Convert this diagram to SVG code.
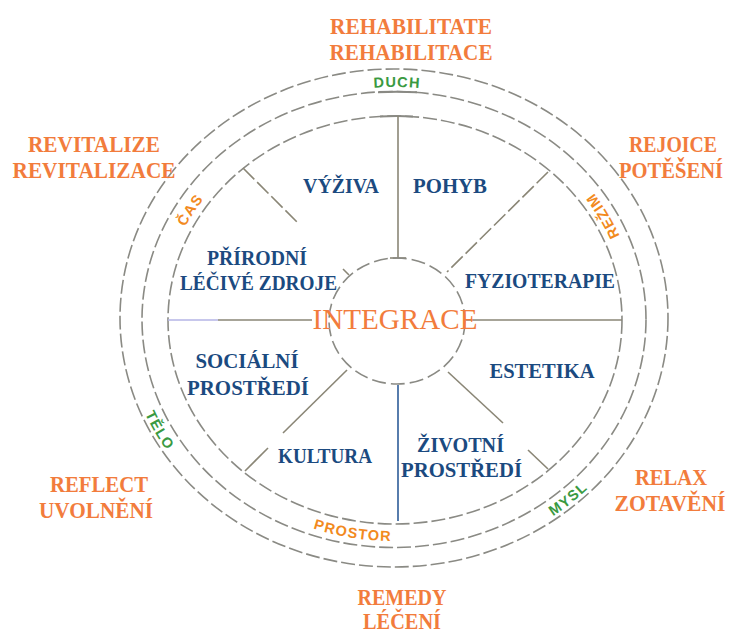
<svg xmlns="http://www.w3.org/2000/svg" width="733" height="635" viewBox="0 0 733 635">
<style>
.ring{fill:none;stroke:#8a8a84;stroke-width:1.6;stroke-dasharray:14 4}
.spoke{fill:none;stroke:#8a8676;stroke-width:1.6}
.dsh{stroke-dasharray:16 4}
.sector{font-family:"Liberation Serif","Times New Roman",serif;font-weight:bold;font-size:20.5px;fill:#1b4a80;text-anchor:middle}
.outer{font-family:"Liberation Serif","Times New Roman",serif;font-weight:bold;font-size:22.5px;fill:#f27c3c;text-anchor:middle}
.rl{font-family:"Liberation Sans",Arial,sans-serif;font-weight:bold;font-size:14.5px;letter-spacing:1.2px;text-anchor:middle}
.g{fill:#3a9a42}
.o{fill:#f28a1e}
</style>
<defs>
<path id="oCW" d="M 137,319 A 257 232 0 1 1 651,319 A 257 232 0 1 1 137,319"/>
<path id="oCCW" d="M 124,319 A 270 244 0 1 0 664,319 A 270 244 0 1 0 124,319"/>
<path id="iCW" d="M 161,320 A 233 210 0 1 1 627,320 A 233 210 0 1 1 161,320"/>
<path id="iCCW" d="M 150,320 A 244 221 0 1 0 638,320 A 244 221 0 1 0 150,320"/>
</defs>
<rect width="733" height="635" fill="#ffffff"/>

<g id="rings">
<ellipse class="ring" cx="394" cy="318" rx="274" ry="249"/>
<ellipse class="ring" cx="394" cy="319.5" rx="252" ry="228"/>
<ellipse class="ring" cx="395" cy="320" rx="227" ry="204"/>
<path d="M 378,92.2 Q 397,91.2 417,92.2" fill="none" stroke="#8a8a84" stroke-width="2"/>
<path d="M 380,116.4 Q 397,115.6 413,116.4" fill="none" stroke="#8a8a84" stroke-width="2"/>
</g>

<g id="connectors">
<line class="spoke" x1="398" y1="116" x2="398" y2="258"/>
<line class="spoke" x1="390" y1="258" x2="406" y2="258"/>
<line class="spoke dsh" x1="243" y1="168" x2="298" y2="223"/>
<line class="spoke" x1="343" y1="269" x2="349" y2="275"/>
<line class="spoke dsh" x1="548" y1="172" x2="447" y2="272"/>
<line x1="168" y1="320" x2="218" y2="320" stroke="#b4b4e6" stroke-width="1.6"/>
<line class="spoke" x1="218" y1="320" x2="312" y2="320"/>
<line class="spoke" x1="465" y1="320" x2="622" y2="320"/>
<line class="spoke" x1="347" y1="370" x2="283" y2="433"/>
<line class="spoke" x1="268" y1="448" x2="245" y2="471"/>
<line x1="398" y1="385" x2="398" y2="521" stroke="#2d5c98" stroke-width="1.6"/>
<line class="spoke" x1="448" y1="372" x2="503" y2="423"/>
<line class="spoke" x1="528" y1="450" x2="548" y2="469"/>
</g>

<g id="center">
<ellipse cx="397" cy="321" rx="68" ry="63" fill="none" stroke="#8a8a84" stroke-width="1.6" stroke-dasharray="14 5"/>
<text x="395" y="329" font-family="'Liberation Serif','Times New Roman',serif" font-size="29" fill="#f27c3c" text-anchor="middle" textLength="165" lengthAdjust="spacingAndGlyphs">INTEGRACE</text>
</g>

<g id="sector-vyziva"><text class="sector" x="341" y="193" textLength="76" lengthAdjust="spacingAndGlyphs">VÝŽIVA</text></g>
<g id="sector-pohyb"><text class="sector" x="450" y="193" textLength="74" lengthAdjust="spacingAndGlyphs">POHYB</text></g>
<g id="sector-prirodni"><text class="sector" x="257" y="265" textLength="100" lengthAdjust="spacingAndGlyphs">PŘÍRODNÍ</text><text class="sector" x="258.5" y="290" textLength="157" lengthAdjust="spacingAndGlyphs">LÉČIVÉ ZDROJE</text></g>
<g id="sector-fyzioterapie"><text class="sector" x="540" y="288" textLength="150" lengthAdjust="spacingAndGlyphs">FYZIOTERAPIE</text></g>
<g id="sector-socialni"><text class="sector" x="247" y="368" textLength="103" lengthAdjust="spacingAndGlyphs">SOCIÁLNÍ</text><text class="sector" x="248" y="395" textLength="122" lengthAdjust="spacingAndGlyphs">PROSTŘEDÍ</text></g>
<g id="sector-estetika"><text class="sector" x="542" y="378" textLength="105" lengthAdjust="spacingAndGlyphs">ESTETIKA</text></g>
<g id="sector-kultura"><text class="sector" x="325" y="463" textLength="94" lengthAdjust="spacingAndGlyphs">KULTURA</text></g>
<g id="sector-zivotni"><text class="sector" x="460.5" y="452" textLength="87" lengthAdjust="spacingAndGlyphs">ŽIVOTNÍ</text><text class="sector" x="461.5" y="477" textLength="121" lengthAdjust="spacingAndGlyphs">PROSTŘEDÍ</text></g>

<g id="ring-duch"><text class="rl g"><textPath href="#oCW" startOffset="25.2%">DUCH</textPath></text></g>
<g id="ring-telo"><text class="rl g"><textPath href="#oCCW" startOffset="7.4%">TĚLO</textPath></text></g>
<g id="ring-mysl"><text class="rl g"><textPath href="#oCCW" startOffset="36.8%">MYSL</textPath></text></g>
<g id="ring-cas"><text class="rl o"><textPath href="#iCW" startOffset="8.2%">ČAS</textPath></text></g>
<g id="ring-prostor"><text class="rl o"><textPath href="#iCCW" startOffset="22.1%">PROSTOR</textPath></text></g>
<g id="ring-rezim"><text class="rl o"><textPath href="#iCCW" startOffset="57.7%">REŽIM</textPath></text></g>

<g id="label-rehabilitate"><text class="outer" x="411" y="34" textLength="162" lengthAdjust="spacingAndGlyphs">REHABILITATE</text><text class="outer" x="411" y="60" textLength="163" lengthAdjust="spacingAndGlyphs">REHABILITACE</text></g>
<g id="label-revitalize"><text class="outer" x="94" y="152" textLength="132" lengthAdjust="spacingAndGlyphs">REVITALIZE</text><text class="outer" x="94" y="178" textLength="163" lengthAdjust="spacingAndGlyphs">REVITALIZACE</text></g>
<g id="label-rejoice"><text class="outer" x="673" y="152" textLength="88" lengthAdjust="spacingAndGlyphs">REJOICE</text><text class="outer" x="671" y="178" textLength="104" lengthAdjust="spacingAndGlyphs">POTĚŠENÍ</text></g>
<g id="label-reflect"><text class="outer" x="99" y="492" textLength="98" lengthAdjust="spacingAndGlyphs">REFLECT</text><text class="outer" x="96" y="518" textLength="114" lengthAdjust="spacingAndGlyphs">UVOLNĚNÍ</text></g>
<g id="label-relax"><text class="outer" x="671" y="485" textLength="72" lengthAdjust="spacingAndGlyphs">RELAX</text><text class="outer" x="670" y="511" textLength="111" lengthAdjust="spacingAndGlyphs">ZOTAVĚNÍ</text></g>
<g id="label-remedy"><text class="outer" x="402" y="605" textLength="89" lengthAdjust="spacingAndGlyphs">REMEDY</text><text class="outer" x="402" y="629" textLength="78" lengthAdjust="spacingAndGlyphs">LÉČENÍ</text></g>
</svg>
